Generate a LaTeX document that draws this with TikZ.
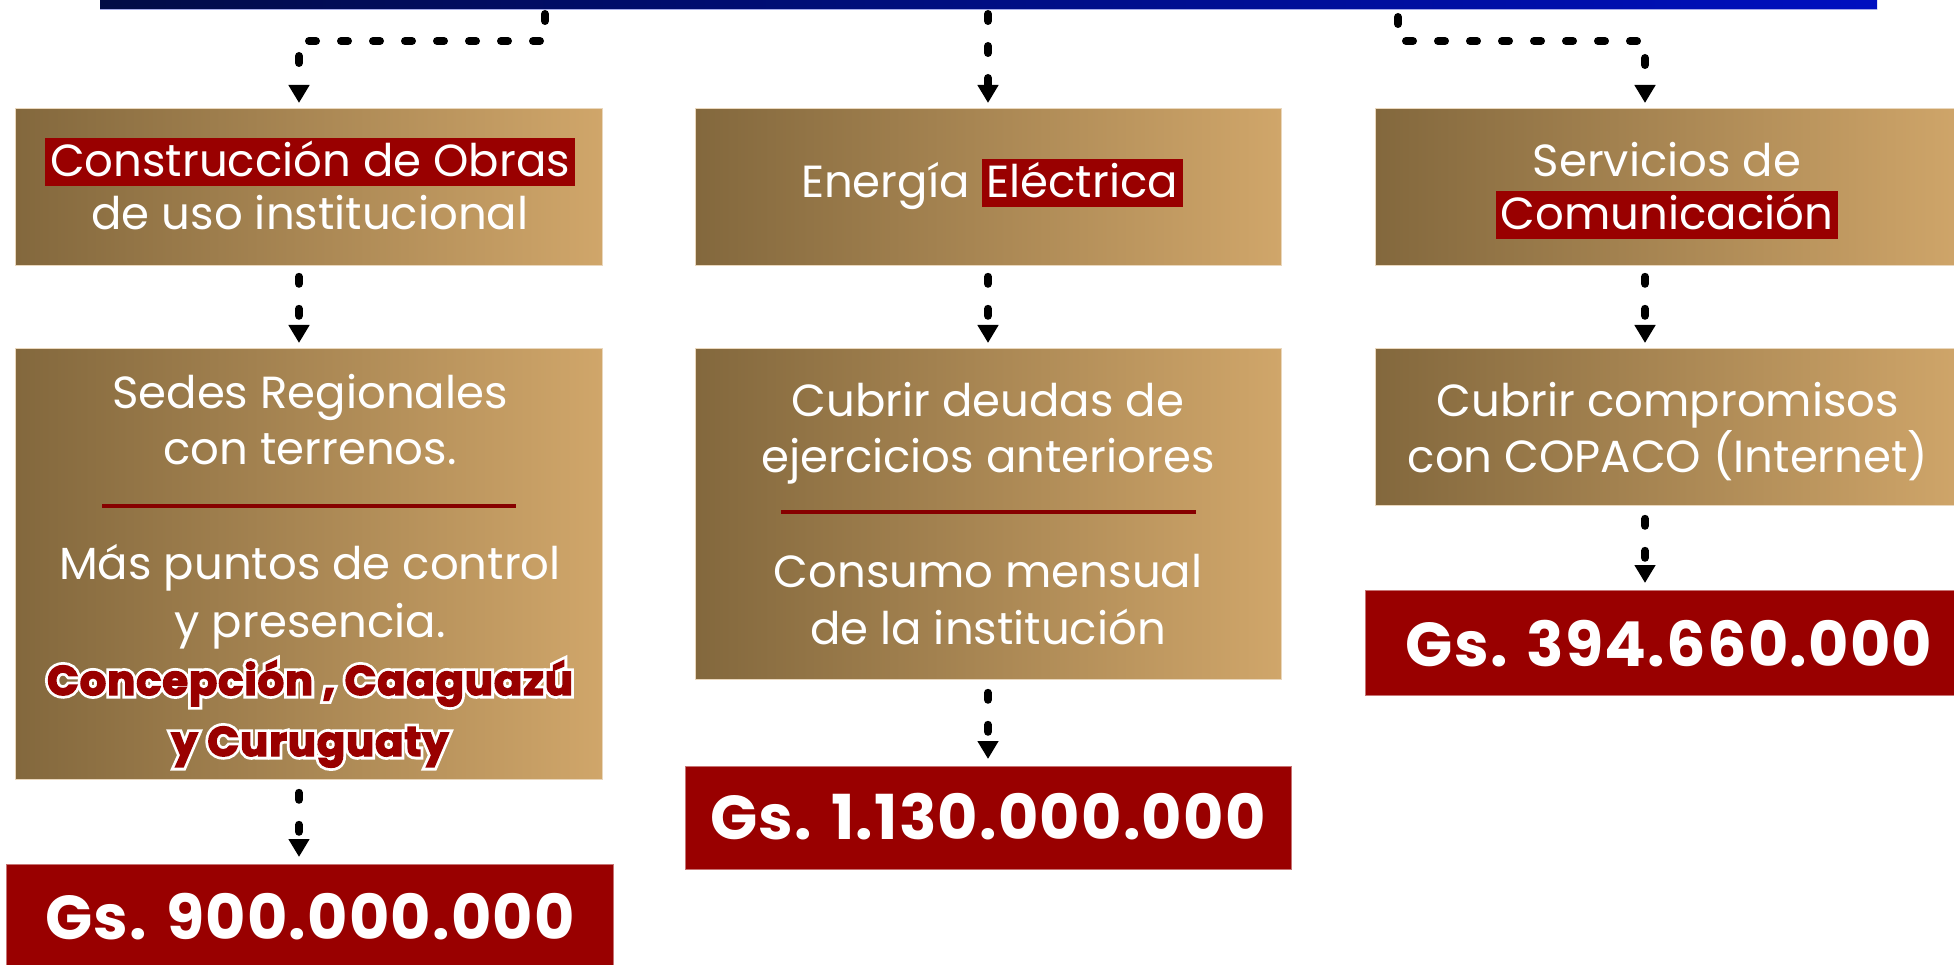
\documentclass[tikz,border=0pt]{standalone}
\usepackage{fontspec}
\setmainfont{Poppins}
\newfontfamily\heavyf{Poppins}[BoldFeatures={FakeBold=3.5}, LetterSpace=2.5]
\newfontfamily\heavyw{Poppins}[BoldFeatures={FakeBold=17}, LetterSpace=2.5]
\usetikzlibrary{arrows.meta,calc}
\definecolor{hlred}{RGB}{153,0,0}
\definecolor{divred}{RGB}{135,0,0}
\definecolor{goldL}{RGB}{131,104,61}
\definecolor{goldR}{RGB}{208,166,106}
\definecolor{navyL}{RGB}{2,12,70}
\definecolor{navyR}{RGB}{0,16,192}
\newcommand\hl[1]{{\setlength\fboxsep{0pt}\colorbox{hlred}{\hspace{5pt}\rule[-9pt]{0pt}{48pt}#1\hspace{5pt}}}}
\newcommand\outlined[3]{%
  \node[heavyout] (#1w) at (#2) {#3};
  \node[heavy] (#1) at (#2) {#3};}
\tikzset{
  gbox/.style={anchor=north west, inner sep=0pt, left color=goldL, right color=goldR, draw=goldR!45!white, line width=0.8pt},
  rbox/.style={anchor=north west, inner sep=0pt, fill=hlred, draw=hlred!55!white, line width=0.8pt},
  bar/.style={anchor=north west, inner sep=0pt, left color=navyL, right color=navyR},
  txt/.style={anchor=base, inner sep=0pt, text=white, font=\fontsize{45}{53}\selectfont},
  amount/.style={anchor=base, inner sep=0pt, text=white, font=\fontsize{62}{70}\selectfont\bfseries\addfontfeature{LetterSpace=2}},
  heavy/.style={anchor=base, inner sep=0pt, text=hlred, font=\fontsize{41.5}{48}\selectfont\heavyf\bfseries},
  heavyout/.style={anchor=base, inner sep=0pt, text=white, font=\fontsize{41.5}{48}\selectfont\heavyw\bfseries},
  conn/.style={line width=8pt, dash pattern=on 7pt off 25pt, line cap=round, -{Triangle[width=20pt,length=18pt]}},
  divline/.style={divred, line width=4pt}
}
\begin{document}
\begin{tikzpicture}[x=1pt,y=-1pt]
\useasboundingbox (0,0) rectangle (1954,965);
% top bar
\node[bar, minimum width=1777pt, minimum height=9pt] (bar) at (100,0) {};
\draw[navyR!35!white, line width=1.2pt] (bar.south west) -- (bar.south east);
% row 1
\node[gbox, minimum width=587pt, minimum height=157pt] (b11) at (15,108) {};
\node[gbox, minimum width=586pt, minimum height=157pt] (b12) at (695,108) {};
\node[gbox, minimum width=592pt, minimum height=157pt] (b13) at (1375,108) {};
% row 2
\node[gbox, minimum width=587pt, minimum height=431pt] (b21) at (15,348) {};
\node[gbox, minimum width=586pt, minimum height=331pt] (b22) at (695,348) {};
\node[gbox, minimum width=592pt, minimum height=157pt] (b23) at (1375,348) {};
% row 3
\node[rbox, minimum width=607pt, minimum height=110pt] (b31) at (6,864) {};
\node[rbox, minimum width=606pt, minimum height=103pt] (b32) at (685,766) {};
\node[rbox, minimum width=600pt, minimum height=105pt] (b33) at (1365,590) {};
% row 1 texts
\node[txt] (t11a) at (310,177) {\hl{Construcción de Obras}};
\node[txt] (t11b) at (310,230) {de uso institucional};
\node[txt] (t12) at (992,198) {Energía \hl{Eléctrica}};
\node[txt] (t13a) at (1667,177) {Servicios de};
\node[txt] (t13b) at (1667,230) {\hl{Comunicación}};
% row 2 texts
\node[txt] (t21a) at (310,408) {Sedes Regionales};
\node[txt] (t21b) at (310,464) {con terrenos.};
\draw[divline] (102,506) -- (516,506);
\node[txt] (t21c) at (310,579) {Más puntos de control};
\node[txt] (t21d) at (310,637) {y presencia.};
\coordinate (h1) at (310,695);
\coordinate (h2) at (310,756);
\outlined{t21e}{h1}{Concepción , Caaguazú}
\outlined{t21f}{h2}{y Curuguaty}
\node[txt] (t22a) at (988,416) {Cubrir deudas de};
\node[txt] (t22b) at (988,472) {ejercicios anteriores};
\draw[divline] (781,512) -- (1196,512);
\node[txt] (t22c) at (988,587) {Consumo mensual};
\node[txt] (t22d) at (988,644) {de la institución};
\node[txt] (t23a) at (1668,416) {Cubrir compromisos};
\node[txt] (t23b) at (1668,472) {con COPACO (Internet)};
% amounts
\node[amount] (a1) at (310,939) {Gs. 900.000.000};
\node[amount] (a2) at (988,839) {Gs. 1.130.000.000};
\node[amount] (a3) at (1669,666) {Gs. 394.660.000};
% connector coordinates
\coordinate (l0) at (545,14);
\coordinate (l1) at (545,41);
\coordinate (l2) at (299,41);
\coordinate (m0) at (988,14);
\coordinate (r0) at (1398,17);
\coordinate (r1) at (1398,41);
\coordinate (r2) at (1645,41);
% connectors
\draw[conn, shorten >=5pt] (l0) -- (l1) -- (l2) -- (l2 |- b11.north);
\draw[conn, shorten >=5pt] (m0) -- (m0 |- b12.north);
\draw[conn, shorten >=5pt] (r0) -- (r1) -- (r2) -- (r2 |- b13.north);
\draw[conn, shorten <=11pt, shorten >=5pt] (b11.south -| l2) -- (b21.north -| l2);
\draw[conn, shorten <=11pt, shorten >=5pt] (b12.south -| m0) -- (b22.north -| m0);
\draw[conn, shorten <=11pt, shorten >=5pt] (b13.south -| r2) -- (b23.north -| r2);
\draw[conn, shorten <=13pt, shorten >=7pt] (b21.south -| l2) -- (b31.north -| l2);
\draw[conn, shorten <=13pt, shorten >=7pt] (b22.south -| m0) -- (b32.north -| m0);
\draw[conn, shorten <=13pt, shorten >=7pt] (b23.south -| r2) -- (b33.north -| r2);
\end{tikzpicture}
\end{document}
